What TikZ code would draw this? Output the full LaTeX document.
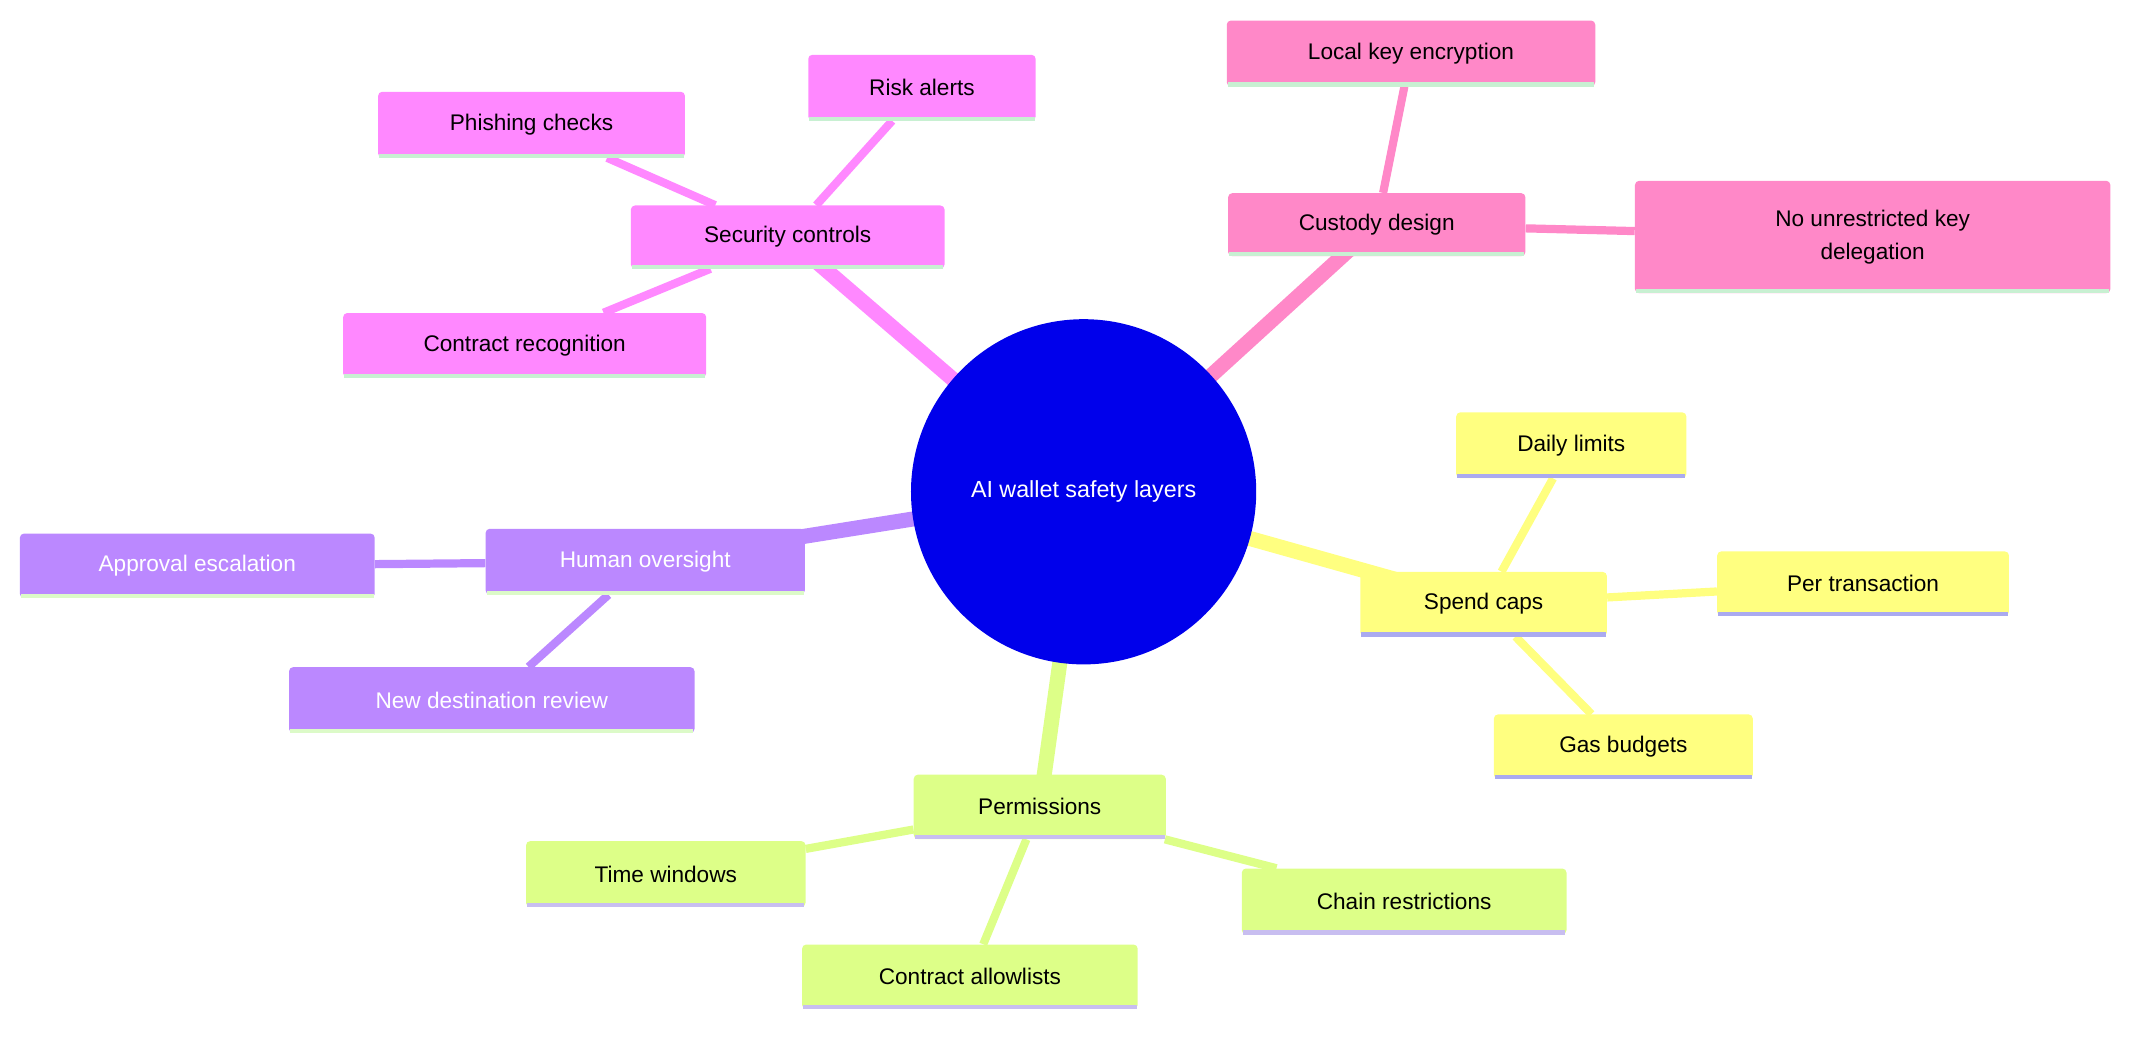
\documentclass[tikz,border=0pt]{standalone}
\usepackage{fontspec}
\setmainfont{Liberation Sans}
\usetikzlibrary{backgrounds}
\definecolor{cblue}{RGB}{0,0,235}
\definecolor{cmag}{RGB}{255,136,255}
\definecolor{cpink}{RGB}{255,136,200}
\definecolor{cyel}{RGB}{255,255,128}
\definecolor{cgrn}{RGB}{221,255,136}
\definecolor{cpur}{RGB}{187,136,255}
\definecolor{sgrn}{RGB}{200,240,210}
\definecolor{sblu}{RGB}{170,170,240}
\definecolor{spur}{RGB}{200,190,240}
\definecolor{sgr2}{RGB}{220,250,200}
\tikzset{
 box/.style={rounded corners=3pt, inner sep=4pt, align=center, font=\fontsize{16.5}{24}\selectfont},
 main/.style={line width=11pt},
 leaf/.style={line width=6pt},
}
\newcommand\strip[2]{\draw[line width=3pt,#2] ([xshift=1pt,yshift=1.5pt]#1.south west)--([xshift=-1pt,yshift=1.5pt]#1.south east);}
\begin{document}
\begin{tikzpicture}[x=1pt,y=-1pt]
\useasboundingbox (0,0) rectangle (1568,760);
\node[circle,fill=cblue,minimum size=252pt,text=white,font=\fontsize{17}{20}\selectfont] (c) at (791,359) {AI wallet safety layers};
% level 1
\node[box,fill=cmag,minimum width=229pt,minimum height=46pt] (sec) at (575,173) {Security controls};
\node[box,fill=cpink,minimum width=217pt,minimum height=46pt] (cus) at (1005,164) {Custody design};
\node[box,fill=cyel,minimum width=180pt,minimum height=47pt] (spd) at (1083,441) {Spend caps};
\node[box,fill=cgrn,minimum width=184pt,minimum height=47pt] (per) at (759,589) {Permissions};
\node[box,fill=cpur,minimum width=233pt,minimum height=48pt,text=white] (hum) at (471,410) {Human oversight};
% leaves
\node[box,fill=cmag,minimum width=224pt,minimum height=48pt] (phi) at (388,91) {Phishing checks};
\node[box,fill=cmag,minimum width=166pt,minimum height=48pt] (ris) at (673,64) {Risk alerts};
\node[box,fill=cmag,minimum width=265pt,minimum height=47pt] (con) at (383,252) {Contract recognition};
\node[box,fill=cpink,minimum width=269pt,minimum height=48pt] (loc) at (1030,39) {Local key encryption};
\node[box,fill=cpink,minimum width=347pt,minimum height=82pt] (nou) at (1367,173) {No unrestricted key\\delegation};
\node[box,fill=cyel,minimum width=168pt,minimum height=48pt] (dai) at (1147,325) {Daily limits};
\node[box,fill=cyel,minimum width=213pt,minimum height=47pt] (ptx) at (1360,426) {Per transaction};
\node[box,fill=cyel,minimum width=189pt,minimum height=47pt] (gas) at (1185,545) {Gas budgets};
\node[box,fill=cgrn,minimum width=204pt,minimum height=48pt] (tim) at (486,638) {Time windows};
\node[box,fill=cgrn,minimum width=245pt,minimum height=47pt] (cal) at (708,713) {Contract allowlists};
\node[box,fill=cgrn,minimum width=237pt,minimum height=48pt] (chn) at (1025,658) {Chain restrictions};
\node[box,fill=cpur,minimum width=259pt,minimum height=47pt,text=white] (app) at (144,413) {Approval escalation};
\node[box,fill=cpur,minimum width=296pt,minimum height=48pt,text=white] (new) at (359,511) {New destination review};
\foreach \n/\s in {sec/sgrn,phi/sgrn,ris/sgrn,con/sgrn,cus/sgrn,loc/sgrn,nou/sgrn,spd/sblu,dai/sblu,ptx/sblu,gas/sblu,per/spur,tim/spur,cal/spur,chn/spur,hum/sgr2,app/sgr2,new/sgr2}{\strip{\n}{\s}}
\begin{scope}[on background layer]
\draw[main,cmag] (c.center)--(sec.center);
\draw[main,cpink] (c.center)--(cus.center);
\draw[main,cyel] (c.center)--(spd.center);
\draw[main,cgrn] (c.center)--(per.center);
\draw[main,cpur] (c.center)--(hum.center);
\draw[leaf,cmag] (sec)--(phi) (sec)--(ris) (sec)--(con);
\draw[leaf,cpink] (cus)--(loc) (cus)--(nou);
\draw[leaf,cyel] (spd)--(dai) (spd)--(ptx) (spd)--(gas);
\draw[leaf,cgrn] (per)--(tim) (per)--(cal) (per)--(chn);
\draw[leaf,cpur] (hum)--(app) (hum)--(new);
\end{scope}
\end{tikzpicture}
\end{document}
